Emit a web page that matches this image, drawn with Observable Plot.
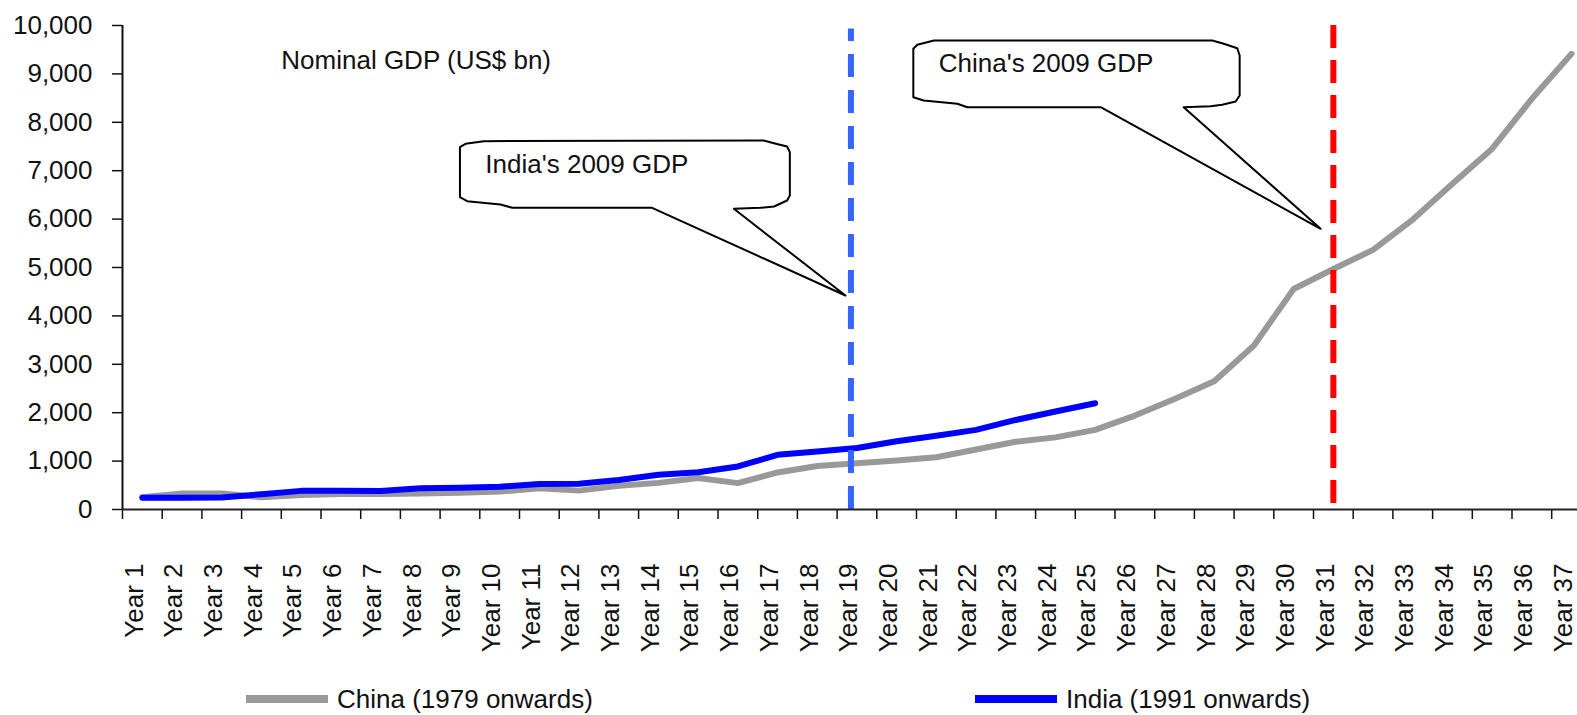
<!DOCTYPE html>
<html><head><meta charset="utf-8">
<script src="https://cdn.jsdelivr.net/npm/d3@7"></script>
<script src="https://cdn.jsdelivr.net/npm/@observablehq/plot@0.6"></script>
<style>
body{margin:0;background:#fff;}
#wrap{position:relative;width:1577px;height:715px;overflow:hidden;font-family:"Liberation Sans",Arial,sans-serif;background:#fff;}
#wrap svg{display:block;}
.sw{position:absolute;height:8px;width:82px;}
.lt{position:absolute;font-size:26px;color:#111;line-height:30px;white-space:nowrap;}
</style></head><body><div id="wrap"></div>
<script>
const categories = ["Year 1","Year 2","Year 3","Year 4","Year 5","Year 6","Year 7","Year 8","Year 9","Year 10",
  "Year 11","Year 12","Year 13","Year 14","Year 15","Year 16","Year 17","Year 18","Year 19","Year 20",
  "Year 21","Year 22","Year 23","Year 24","Year 25","Year 26","Year 27","Year 28","Year 29","Year 30",
  "Year 31","Year 32","Year 33","Year 34","Year 35","Year 36","Year 37"];
const chinaGDP = [255, 330, 330, 255, 300, 320, 320, 330, 345, 370, 440, 390, 490, 550, 650, 545, 765, 900, 955,
  1010, 1080, 1240, 1400, 1490, 1645, 1940, 2285, 2650, 3390, 4555, 4970, 5365, 5990, 6730, 7455, 8485, 9415];
const indiaGDP = [242, 245, 250, 315, 385, 385, 380, 440, 450, 470, 525, 530, 610, 720, 770, 890, 1130, 1200, 1270,
  1410, 1525, 1645, 1850, 2025, 2195];
const yTicks = [0,1000,2000,3000,4000,5000,6000,7000,8000,9000,10000];
const seriesNames = ["China (1979 onwards)", "India (1991 onwards)"];
const seriesColors = ["#999999", "#0000ff"];
const chartTitle = "Nominal GDP (US$ bn)";
// reference markers (year index, GDP from / to)
const markerYears = [19, 31];
const markerFrom = [0, 124];
const markerTo = [9930, 10000];
const markerColors = ["#3366ff", "#ff0000"];
// callouts in data units (year index, GDP)
const indiaCalloutX = [9.0, 9.14, 9.60, 16.65, 16.91, 17.24, 17.31, 17.31, 17.24, 16.91, 16.57, 15.90, 18.71, 13.84, 10.32, 10.02, 9.18, 9.0, 9.0];
const indiaCalloutY = [7486, 7556, 7610, 7624, 7568, 7500, 7382, 6488, 6384, 6260, 6233, 6213, 4421, 6233, 6233, 6302, 6370, 6452, 7486];
const chinaCalloutX = [20.42, 20.52, 20.94, 27.95, 28.24, 28.58, 28.64, 28.64, 28.54, 28.20, 27.91, 27.23, 30.68, 25.14, 21.78, 21.53, 20.68, 20.42, 20.42];
const chinaCalloutY = [9519, 9601, 9690, 9690, 9622, 9531, 9380, 8554, 8430, 8362, 8333, 8312, 5800, 8312, 8312, 8382, 8450, 8519, 9519];
const calloutTexts = ["India's 2009 GDP", "China's 2009 GDP"];
const calloutTextX = [9.64, 21.06];
const calloutTextY = [6948, 9035];
const titleX = 4.5, titleY = 9091;

const xDomain = [0.5, 37.5];
const yDomain = [0, 10000];

const china = chinaGDP.map((v, i) => ({idx: i + 1, value: v}));
const india = indiaGDP.map((v, i) => ({idx: i + 1, value: v}));
const markers = markerYears.map((m, i) => ({x: m, y1: markerFrom[i], y2: markerTo[i], c: markerColors[i]}));
const indiaCallout = indiaCalloutX.map((x, i) => ({x, y: indiaCalloutY[i]}));
const chinaCallout = chinaCalloutX.map((x, i) => ({x, y: chinaCalloutY[i]}));
const calloutLabels = calloutTexts.map((t, i) => ({t, x: calloutTextX[i], y: calloutTextY[i]}));
const boundaries = d3.range(xDomain[0], 37, 1);
const centers = categories.map((c, i) => i + 1);

const W = 1577, H = 668;
const plot = Plot.plot({
  width: W, height: H,
  marginLeft: 122, marginRight: 0, marginTop: 25, marginBottom: H - 509,
  style: {fontFamily: "Liberation Sans, Arial, sans-serif", fontSize: "26px", color: "#111", background: "white"},
  x: {domain: xDomain, range: [122, 122 + 37 * 39.7], label: null},
  y: {domain: yDomain, range: [509, 25], label: null},
  marks: [
    Plot.axisY({ticks: yTicks, tickSize: 10, tickPadding: 20, tickFormat: d3.format(","), stroke: "#111", strokeWidth: 1.5, fill: "#111", label: null}),
    Plot.axisX({ticks: boundaries, tickSize: 10, tickFormat: () => "", stroke: "#111", strokeWidth: 1.5, label: null}),
    Plot.axisX({ticks: centers, tickSize: 0, tickPadding: 54, tickRotate: -90, tickFormat: i => categories[i - 1], fill: "#111", dx: -8, label: null}),
    Plot.line(china, {x: "idx", y: "value", stroke: seriesColors[0], strokeWidth: 6}),
    Plot.line(india, {x: "idx", y: "value", stroke: seriesColors[1], strokeWidth: 6}),
    Plot.ruleX([markers[0]], {x: "x", y1: "y1", y2: "y2", stroke: markerColors[0], strokeWidth: 6, strokeDasharray: "23,13", dx: -6}),
    Plot.ruleX([markers[1]], {x: "x", y1: "y1", y2: "y2", stroke: markerColors[1], strokeWidth: 6, strokeDasharray: "23,12"}),
    Plot.line(indiaCallout, {x: "x", y: "y", fill: "white", stroke: "#000", strokeWidth: 2, curve: "linear"}),
    Plot.line(chinaCallout, {x: "x", y: "y", fill: "white", stroke: "#000", strokeWidth: 2, curve: "linear"}),
    Plot.text(calloutLabels, {x: "x", y: "y", text: "t", textAnchor: "start", lineAnchor: "bottom", fontSize: 26, fill: "#111"}),
    Plot.text([chartTitle], {x: titleX, y: titleY, text: d => d, textAnchor: "start", lineAnchor: "bottom", fontSize: 26, fill: "#111"}),
    Plot.ruleY([yDomain[0]], {stroke: "#222", strokeWidth: 2}),
    Plot.ruleX([xDomain[0]], {y1: yDomain[0], y2: yDomain[1], stroke: "#111", strokeWidth: 2})
  ]
});
const wrap = document.getElementById("wrap");
wrap.appendChild(plot);

// legend below the chart
const legendLeft = [246, 975];
seriesNames.forEach((name, i) => {
  const sw = document.createElement("div");
  sw.className = "sw";
  sw.style.left = legendLeft[i] + "px";
  sw.style.top = "695px";
  sw.style.background = seriesColors[i];
  wrap.appendChild(sw);
  const t = document.createElement("div");
  t.className = "lt";
  t.style.left = (legendLeft[i] + 91) + "px";
  t.style.top = "684px";
  t.textContent = name;
  wrap.appendChild(t);
});
</script></body></html>
